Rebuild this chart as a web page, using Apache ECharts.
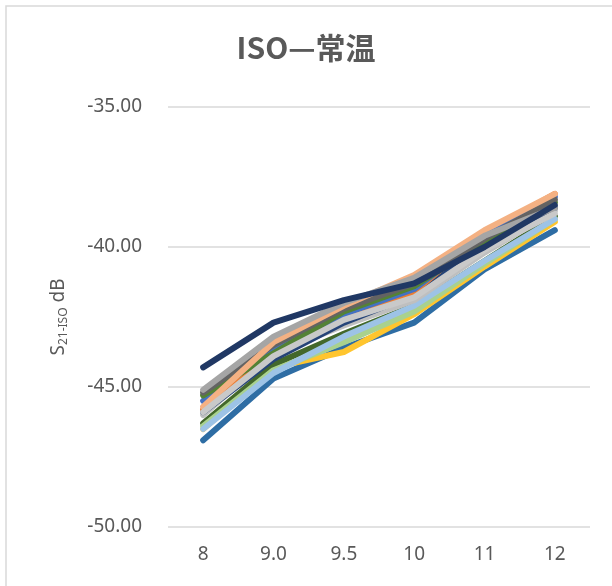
<!DOCTYPE html>
<html><head><meta charset="utf-8">
<script src="https://cdn.jsdelivr.net/npm/echarts@6/dist/echarts.min.js"></script>
<style>html,body{margin:0;padding:0;background:#fff}#c{width:612px;height:586px}</style>
</head><body><div id="c"></div>
<script>
const categories = ['8', '9.0', '9.5', '10', '11', '12'];
const yTicks = [-50, -45, -40, -35];
const s01 = [-44.3, -42.7, -41.9, -41.3, -40.0, -38.5];
const s02 = [-45.1, -43.2, -42.0, -41.1, -39.6, -38.6];
const s03 = [-45.2, -43.5, -42.2, -41.3, -39.7, -38.3];
const s04 = [-45.3, -43.8, -42.3, -41.4, -39.8, -38.4];
const s05 = [-45.5, -43.6, -42.4, -41.5, -39.6, -38.2];
const s06 = [-45.7, -43.4, -42.1, -41.0, -39.4, -38.1];
const s07 = [-45.8, -43.6, -42.5, -41.6, -39.5, -38.1];
const s08 = [-45.9, -44.0, -42.7, -41.7, -40.0, -38.6];
const s09 = [-46.0, -43.8, -42.8, -41.9, -40.2, -38.7];
const s10 = [-46.3, -44.2, -43.1, -42.1, -40.5, -38.9];
const s11 = [-46.5, -44.3, -43.75, -42.4, -40.7, -39.1];
const s12 = [-46.5, -44.5, -43.2, -42.1, -40.5, -39.0];
const s13 = [-46.4, -44.4, -43.4, -42.3, -40.6, -39.0];
const s14 = [-46.9, -44.7, -43.6, -42.7, -40.8, -39.4];
const s15 = [-45.9, -43.9, -42.6, -41.8, -40.1, -38.8];
const seriesData = [s14, s11, s10, s13, s12, s09, s08, s07, s05, s04, s03, s06, s15, s02, s01];
const seriesColors = ['#2E6DA4', '#FFC52E', '#43682B', '#A9D18E', '#9DC3E6', '#BFBFBF', '#264478', '#ED7D31', '#4472C4', '#548235', '#636363', '#F4B183', '#C9C9C9', '#A5A5A5', '#203864'];

const chart = echarts.init(document.getElementById('c'));
chart.setOption({
  animation: false,
  backgroundColor: '#fff',
  graphic: [{type: 'rect', shape: {x: 6, y: 6, width: 640, height: 640}, style: {fill: 'none', stroke: '#D9D9D9', lineWidth: 1.5}, z: -1}],
  title: {text: 'ISO—常温', left: 'center', top: 28, textStyle: {fontFamily: 'Noto Sans CJK SC', fontSize: 30, fontWeight: 'bold', color: '#595959'}},
  grid: {left: 168, right: 22, top: 107, bottom: 59},
  xAxis: {type: 'category', data: categories, boundaryGap: true,
    axisLine: {show: false}, axisTick: {show: false},
    axisLabel: {fontFamily: 'Noto Sans', fontSize: 19, color: '#595959', margin: 18}},
  yAxis: {type: 'value', min: -50, max: -35, interval: 5,
    axisLabel: {fontFamily: 'Noto Sans', fontSize: 19, color: '#595959', margin: 26,
      formatter: v => yTicks.includes(v) ? v.toFixed(2) : ''},
    splitLine: {lineStyle: {color: '#D9D9D9', width: 1.5}},
    name: '{m|S}{s|21-ISO}{m| dB}', nameLocation: 'middle', nameRotate: 90, nameGap: 98,
    nameTextStyle: {rich: {m: {fontFamily: 'Noto Sans', fontSize: 19, color: '#595959'}, s: {fontFamily: 'Noto Sans', fontSize: 12, color: '#595959', verticalAlign: 'bottom', padding: [10, 0, 0, 0]}}}},
  series: seriesData.map((d, i) => ({type: 'line', data: d, symbol: 'none',
    lineStyle: {width: 6, color: seriesColors[i], cap: 'round', join: 'round'}, itemStyle: {color: seriesColors[i]}}))
});
</script></body></html>
